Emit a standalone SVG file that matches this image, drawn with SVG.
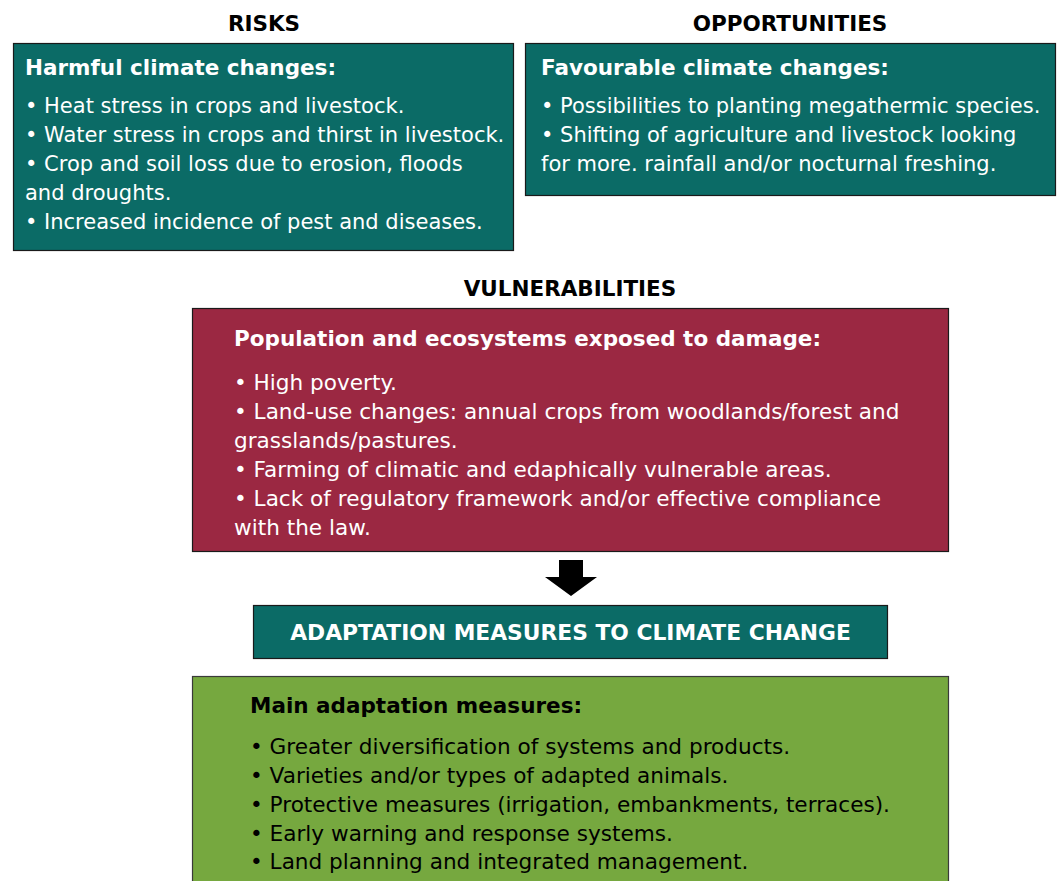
<svg xmlns="http://www.w3.org/2000/svg" width="1062" height="881" viewBox="0 0 1062 881">
  <style>
    text { font-family: "DejaVu Sans", "Verdana", sans-serif; font-size: 21px; }
    .head { font-weight: bold; font-size: 21.5px; fill: #000; text-anchor: middle; }
    .sub { font-weight: bold; font-size: 21.5px; fill: #fff; }
    .banner { font-size: 21.8px; }
    .big { font-size: 21.6px; }
    .item { fill: #fff; }
    .dark { fill: #000; }
    .teal { fill: #0b6b66; stroke: #1a1a1a; stroke-width: 1.2; }
    .wine { fill: #9b2842; stroke: #1a1a1a; stroke-width: 1.2; }
    .leaf { fill: #76a83f; stroke: #3a3a3a; stroke-width: 1.2; }
  </style>

  <rect width="1062" height="881" fill="#fff"/>

  <!-- Risks -->
  <g id="risks">
    <text class="head" x="264" y="31">RISKS</text>
    <rect class="teal" x="13.5" y="43.5" width="500" height="207"/>
    <text class="sub" x="25" y="74.5">Harmful climate changes:</text>
    <text class="item" x="25" y="113">• Heat stress in crops and livestock.</text>
    <text class="item" x="25" y="142">• Water stress in crops and thirst in livestock.</text>
    <text class="item" x="25" y="171">• Crop and soil loss due to erosion, floods</text>
    <text class="item" x="25" y="200">and droughts.</text>
    <text class="item" x="25" y="228.5">• Increased incidence of pest and diseases.</text>
  </g>

  <!-- Opportunities -->
  <g id="opportunities">
    <text class="head" x="790" y="31">OPPORTUNITIES</text>
    <rect class="teal" x="525.5" y="43.5" width="530" height="152"/>
    <text class="sub" x="541" y="74.5">Favourable climate changes:</text>
    <text class="item" x="541" y="113">• Possibilities to planting megathermic species.</text>
    <text class="item" x="541" y="142">• Shifting of agriculture and livestock looking</text>
    <text class="item" x="541" y="171">for more. rainfall and/or nocturnal freshing.</text>
  </g>

  <!-- Vulnerabilities -->
  <g id="vulnerabilities">
    <text class="head" x="570" y="296">VULNERABILITIES</text>
    <rect class="wine" x="192.5" y="308.5" width="756" height="243"/>
    <text class="sub" x="234" y="346">Population and ecosystems exposed to damage:</text>
    <text class="item big" x="234" y="390">• High poverty.</text>
    <text class="item big" x="234" y="419">• Land-use changes: annual crops from woodlands/forest and</text>
    <text class="item big" x="234" y="448">grasslands/pastures.</text>
    <text class="item big" x="234" y="477">• Farming of climatic and edaphically vulnerable areas.</text>
    <text class="item big" x="234" y="506">• Lack of regulatory framework and/or effective compliance</text>
    <text class="item big" x="234" y="535">with the law.</text>
  </g>

  <!-- Connector -->
  <g id="connectors">
    <polygon points="559,560 583,560 583,577 597,577 571,596 545,577 559,577" fill="#000"/>
  </g>

  <!-- Adaptation banner -->
  <g id="adaptation">
    <rect class="teal" x="253.5" y="605.5" width="634" height="53"/>
    <text class="sub banner" x="570.5" y="640" text-anchor="middle">ADAPTATION MEASURES TO CLIMATE CHANGE</text>
  </g>

  <!-- Measures -->
  <g id="measures">
    <rect class="leaf" x="192.5" y="676.5" width="756" height="220"/>
    <text class="sub dark" x="250" y="713">Main adaptation measures:</text>
    <text class="dark big" x="250" y="754">• Greater diversification of systems and products.</text>
    <text class="dark big" x="250" y="783">• Varieties and/or types of adapted animals.</text>
    <text class="dark big" x="250" y="812">• Protective measures (irrigation, embankments, terraces).</text>
    <text class="dark big" x="250" y="841">• Early warning and response systems.</text>
    <text class="dark big" x="250" y="869">• Land planning and integrated management.</text>
  </g>
</svg>
